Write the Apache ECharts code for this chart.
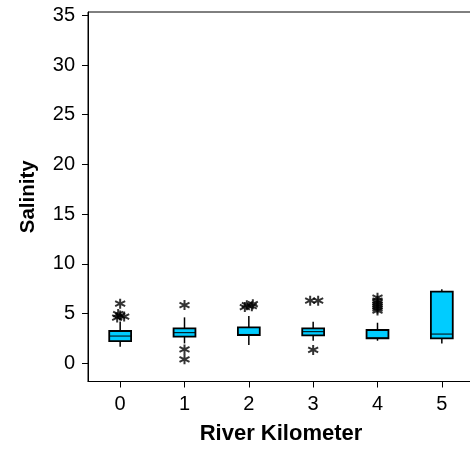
<!DOCTYPE html>
<html>
<head>
<meta charset="utf-8">
<script src="https://cdn.jsdelivr.net/npm/echarts@6/dist/echarts.min.js"></script>
<style>
  html, body { margin: 0; padding: 0; background: #fff; overflow: hidden; }
  #chart { width: 470px; height: 451px; }
</style>
</head>
<body>
<div id="chart"></div>
<script>
// River kilometre stations along the x axis
const kilometers = ['0', '1', '2', '3', '4', '5'];

// Five-number summaries per station: [low whisker, Q1, median, Q3, high whisker]
const lowWhisker  = [1.67, 2.00, 1.84, 2.27, 2.27, 2.00];
const quartile1   = [2.24, 2.68, 2.84, 2.81, 2.51, 2.51];
const medians     = [2.74, 3.08, 2.90, 3.18, 2.56, 2.94];
const quartile3   = [3.25, 3.52, 3.62, 3.52, 3.35, 7.20];
const highWhisker = [4.20, 4.62, 4.75, 4.18, 4.08, 7.44];

// Outlying salinity readings per station
const outliers0 = [4.60, 4.70, 4.80, 4.95, 6.00];
const outliers1 = [5.86, 1.40, 0.40];
const outliers2 = [5.65, 5.75, 5.85, 5.95];
const outliers3 = [6.30, 6.30, 1.35];
const outliers4 = [5.30, 5.50, 5.70, 5.90, 6.10, 6.30, 6.60];
const outliers5 = [];

// Y axis tick labels
const salinityTicks = [0, 5, 10, 15, 20, 25, 30, 35];

// Small sideways nudges (px) so tied readings stay visible
const tieNudge = [
  [-3, 4, 0, -2, 0],
  [0, 0, 0],
  [-4, 3, -2, 4],
  [-3, 5, 0],
  [0, 0, 0, 0, 0, 0, 0],
  []
];

const outlierSets = [outliers0, outliers1, outliers2, outliers3, outliers4, outliers5];

const boxData = kilometers.map((k, i) => [i, lowWhisker[i], quartile1[i], medians[i], quartile3[i], highWhisker[i]]);

const outlierData = [];
outlierSets.forEach((set, i) => {
  set.forEach((v, j) => {
    outlierData.push({ value: [i, v], symbolOffset: [tieNudge[i][j] || 0, 0] });
  });
});

// Asterisk marker: vertical stroke plus two diagonals
const asterisk = 'path://M5 0L5 10M0.67 2.5L9.33 7.5M0.67 7.5L9.33 2.5';

const font = "'Liberation Sans', Arial, Helvetica, sans-serif";

const chart = echarts.init(document.getElementById('chart'), null, { renderer: 'canvas' });

chart.setOption({
  animation: false,
  backgroundColor: '#fff',
  grid: {
    left: 88, top: 12, width: 386, height: 369.5,
    outerBoundsMode: 'none',
    containLabel: false,
    show: true, borderColor: '#000', borderWidth: 1, backgroundColor: 'transparent'
  },
  xAxis: {
    type: 'category',
    data: kilometers,
    boundaryGap: true,
    name: 'River Kilometer',
    nameLocation: 'middle',
    nameGap: 41,
    nameTextStyle: { fontFamily: font, fontWeight: 'bold', fontSize: 22, color: '#000' },
    axisLine: { show: true, onZero: false, lineStyle: { color: '#000', width: 1 } },
    axisTick: { show: true, alignWithLabel: true, inside: false, length: 6, lineStyle: { color: '#000', width: 1 } },
    axisLabel: { fontFamily: font, fontSize: 20, color: '#000', margin: 13 },
    splitLine: { show: false }
  },
  yAxis: {
    type: 'value',
    min: -1.83,
    max: 35.33,
    name: 'Salinity',
    nameLocation: 'middle',
    nameGap: 49,
    nameRotate: 90,
    nameTextStyle: { fontFamily: font, fontWeight: 'bold', fontSize: 20.5, color: '#000' },
    axisLine: { show: true, onZero: false, lineStyle: { color: '#000', width: 1 } },
    axisTick: { show: true, inside: false, length: 6, customValues: salinityTicks, lineStyle: { color: '#000', width: 1 } },
    axisLabel: { fontFamily: font, fontSize: 20, color: '#000', margin: 13, customValues: salinityTicks },
    splitLine: { show: false }
  },
  series: [
    {
      type: 'custom',
      name: 'box',
      data: boxData,
      encode: { x: 0, y: [1, 2, 3, 4, 5] },
      renderItem: function (params, api) {
        const x = api.value(0);
        const lo = api.coord([x, api.value(1)]);
        const q1 = api.coord([x, api.value(2)]);
        const md = api.coord([x, api.value(3)]);
        const q3 = api.coord([x, api.value(4)]);
        const hi = api.coord([x, api.value(5)]);
        const w = api.size([1, 0])[0] * 0.34;
        const cx = lo[0];
        const lineStyle = { stroke: '#000', lineWidth: 1.5 };
        return {
          type: 'group',
          children: [
            { type: 'line', shape: { x1: cx, y1: q1[1], x2: cx, y2: lo[1] }, style: lineStyle },
            { type: 'line', shape: { x1: cx, y1: q3[1], x2: cx, y2: hi[1] }, style: lineStyle },
            {
              type: 'rect',
              shape: { x: cx - w / 2, y: q3[1], width: w, height: q1[1] - q3[1] },
              style: { fill: '#00CCFF', stroke: '#000', lineWidth: 1.8 }
            },
            { type: 'line', shape: { x1: cx - w / 2, y1: md[1], x2: cx + w / 2, y2: md[1] }, style: { stroke: '#000', lineWidth: 1 } }
          ]
        };
      }
    },
    {
      type: 'scatter',
      name: 'outliers',
      data: outlierData,
      symbol: asterisk,
      symbolSize: 10,
      itemStyle: { color: 'rgba(0,0,0,0)', borderColor: '#000', borderWidth: 2 }
    }
  ]
});
</script>
</body>
</html>
